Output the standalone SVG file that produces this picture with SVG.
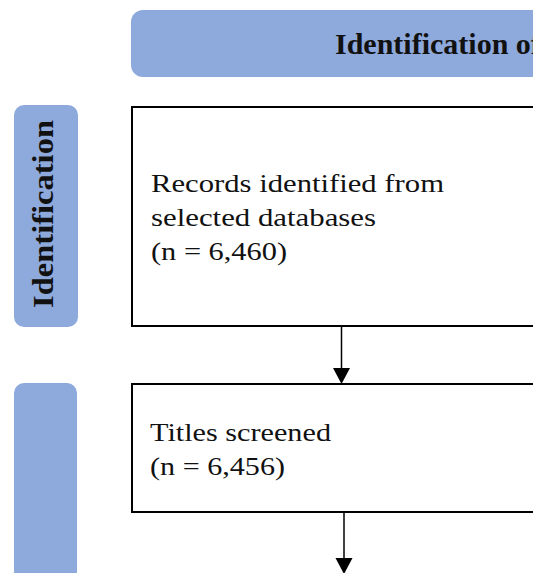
<svg xmlns="http://www.w3.org/2000/svg" width="533" height="573" viewBox="0 0 533 573">
<style>
.band{fill:#8EA9DB;}
.box{fill:#fff;stroke:#000;stroke-width:2;}
.hdr{font-weight:bold;fill:#111;}
.txt{font-size:26px;fill:#111;}
.conn line{stroke:#000;stroke-width:1.5;}
.conn polygon{fill:#000;}
</style>
<rect width="533" height="573" fill="#fff"/>
<g font-family="Liberation Serif, Times New Roman, serif">
<g id="header-identification">
<rect class="band" x="131" y="10" width="440" height="67" rx="12"/>
<text class="hdr" x="335" y="54" font-size="30">Identification of</text>
</g>
<g id="side-identification">
<rect class="band" x="14" y="105" width="64" height="222" rx="10"/>
<text class="hdr" font-size="30" transform="translate(53,308) rotate(-90)" textLength="188" lengthAdjust="spacingAndGlyphs">Identification</text>
</g>
<g id="side-screening">
<rect class="band" x="14" y="383" width="63" height="220" rx="10"/>
</g>
<g id="records">
<rect class="box" x="132" y="107" width="420" height="219"/>
<text class="txt" x="151" y="192" textLength="293" lengthAdjust="spacingAndGlyphs">Records identified from</text>
<text class="txt" x="151" y="226" textLength="225" lengthAdjust="spacingAndGlyphs">selected databases</text>
<text class="txt" x="151" y="260" textLength="136" lengthAdjust="spacingAndGlyphs">(n = 6,460)</text>
</g>
<g id="titles">
<rect class="box" x="132" y="384" width="420" height="128"/>
<text class="txt" x="150" y="441" textLength="181" lengthAdjust="spacingAndGlyphs">Titles screened</text>
<text class="txt" x="150" y="475" textLength="135" lengthAdjust="spacingAndGlyphs">(n = 6,456)</text>
</g>
</g>
<g id="connectors" class="conn">
<line x1="341.5" y1="327" x2="341.5" y2="370"/>
<polygon points="333,368 350,368 341.5,384"/>
<line x1="344" y1="513" x2="344" y2="560"/>
<polygon points="335.5,558 352.5,558 344,574"/>
</g>
</svg>
